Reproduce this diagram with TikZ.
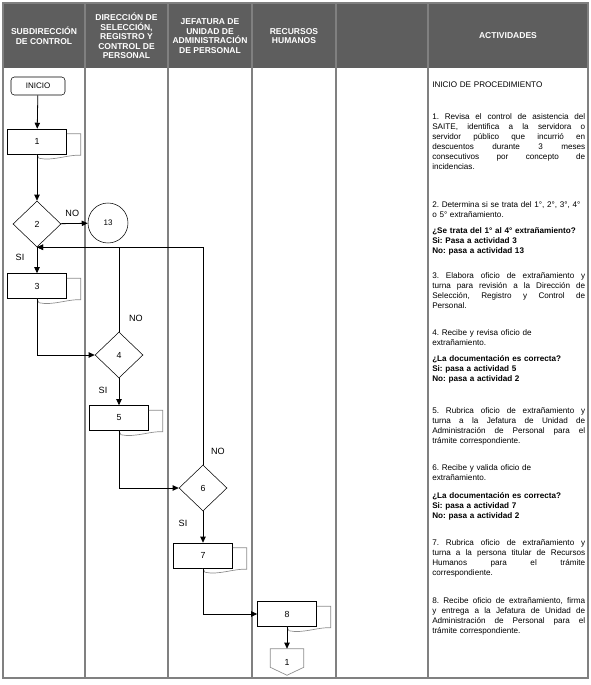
\documentclass[tikz,border=0pt]{standalone}
\usepackage{fontspec}
\setmainfont{Liberation Sans}
\usepackage{tikz}
\usetikzlibrary{arrows.meta,positioning,calc,shapes.geometric}
\definecolor{cHead}{HTML}{5E5E5E}
\definecolor{cRule}{HTML}{808080}
\definecolor{cLine}{HTML}{000000}
\definecolor{cShade}{HTML}{8C8C8C}
\tikzset{
  hdr/.style={text=white, font=\fontsize{6.4}{7.2}\selectfont\bfseries, align=center, inner sep=0pt},
  rule/.style={draw=cRule, line width=1pt},
  inicio/.style={draw, rounded corners=2.5pt, minimum width=54*0.75pt, minimum height=18*0.75pt,
                 inner sep=0pt, font=\fontsize{6}{7}\selectfont},
  procbox/.style={draw, fill=white, minimum width=59*0.75pt, minimum height=25*0.75pt,
                  inner sep=0pt, font=\fontsize{6.6}{7}\selectfont},
  decis/.style={diamond, draw, minimum width=48*0.75pt, minimum height=46*0.75pt,
                inner sep=0pt, font=\fontsize{6.6}{7}\selectfont},
  conn/.style={circle, draw, minimum size=40*0.75pt, inner sep=0pt, font=\fontsize{6}{7}\selectfont},
  offpg/.style={minimum width=33*0.75pt, minimum height=26*0.75pt, inner sep=0pt,
                font=\fontsize{6.6}{7}\selectfont},
  docback/.style={draw=cShade, line width=0.5pt},
  arr/.style={-{Triangle[length=4.5pt,width=4pt]}, line width=0.6pt, cLine},
  lbl/.style={font=\fontsize{6.8}{8}\selectfont, inner sep=0pt},
  act/.style={anchor=north west, inner sep=0pt, text width=\actw, align=left,
              font=\fontsize{6.1}{7.5}\selectfont\frenchspacing},
  actq/.style={act, font=\fontsize{6.1}{7.5}\selectfont\frenchspacing\bfseries}
}
\newcommand{\actw}{114.75pt}
\newcommand{\jline}[1]{\makebox[\actw][s]{\spaceskip=0.278em plus 1fil minus 0.06em\relax #1}\\}
\newcommand{\docshadow}[1]{%
  \draw[docback] ($(#1.north east)+(0,5)$) -- ++(14,0) -- ($(#1.south east)+(14,1)$)
    .. controls +(-12,-1) and +(14,3) .. ($(#1.south)+(2,4)$) -- (#1.south);}

\begin{document}
\begin{tikzpicture}[x=0.75pt, y=-0.75pt]
\useasboundingbox (0,0) rectangle (590,685);
% table: header band and lanes
\fill[cHead] (3,3) rectangle (588,68);
\draw[rule] (3,3) rectangle (588,678);
\draw[rule] (85,3) -- (85,678);
\draw[rule] (168,3) -- (168,678);
\draw[rule] (252,3) -- (252,678);
\draw[rule] (336,3) -- (336,678);
\draw[rule] (428,3) -- (428,678);
\node[hdr] (h1) at (44,36) {SUBDIRECCIÓN\\DE CONTROL};
\node[hdr] (h2) at (126.5,36) {DIRECCIÓN DE\\SELECCIÓN,\\REGISTRO Y\\CONTROL DE\\PERSONAL};
\node[hdr] (h3) at (210,36) {JEFATURA DE\\UNIDAD DE\\ADMINISTRACIÓN\\DE PERSONAL};
\node[hdr] (h4) at (294,36) {RECURSOS\\HUMANOS};
\node[hdr] (h6) at (508,36) {ACTIVIDADES};
% flow: subdireccion de control
\node[inicio] (ini) at (38,86) {INICIO};
\node[procbox] (b1) at (37,141.5) {1};
\docshadow{b1}
\node[decis] (d2) at (37,224) {2};
\node[conn] (c13) at (108,223) {13};
\node[procbox] (b3) at (37,286) {3};
\docshadow{b3}
% direccion de seleccion
\node[decis] (d4) at (119,355) {4};
\node[procbox] (b5) at (119,418) {5};
\docshadow{b5}
% jefatura de unidad
\node[decis] (d6) at (203,488) {6};
\node[procbox] (b7) at (203,555.5) {7};
\docshadow{b7}
% recursos humanos
\node[procbox] (b8) at (287,614) {8};
\docshadow{b8}
\node[offpg] (off1) at (287,662) {1};
\draw[docback] (off1.north west) -- (off1.north east) -- ($(off1.south east)+(0,-8)$)
  -- (off1.south) -- ($(off1.south west)+(0,-8)$) -- cycle;
% connectors
\draw[arr] (ini) -- (b1);
\draw[arr] (b1) -- (d2);
\draw[arr] (d2) -- (c13);
\draw[arr] (d2) -- (b3);
\draw[arr] (b3.south) |- (d4.west);
\draw[arr] (d4.north) |- (d2.south);
\draw[arr] (d4) -- (b5);
\draw[arr] (b5.south) |- (d6.west);
\draw[arr] (d6.north) |- (d2.south);
\draw[arr] (d6) -- (b7);
\draw[arr] (b7.south) |- (b8.west);
\draw[arr] (b8) -- (off1);
\node[lbl] (n2) at ($(d2.east)+(11,-11)$) {NO};
\node[lbl] (s2) at ($(d2.south)+(-17,10)$) {SI};
\node[lbl] (n4) at ($(d4.north)+(17,-13)$) {NO};
\node[lbl] (s4) at ($(d4.south)+(-16,12)$) {SI};
\node[lbl] (n6) at ($(d6.north)+(15,-13)$) {NO};
\node[lbl] (s6) at ($(d6.south)+(-20,12)$) {SI};
% activities column
\node[act] (a0) at (432,82) {INICIO DE PROCEDIMIENTO};
\node[act] (a1) at (432,113) {\jline{1. Revisa el control de asistencia del}
  \jline{SAITE, identifica a la servidora o}
  \jline{servidor público que incurrió en}
  \jline{descuentos durante 3 meses}
  \jline{consecutivos por concepto de}
  incidencias.};
\node[act] (a2) at (432,201) {\mbox{2. Determina si se trata del 1°, 2°, 3°, 4°}\\o 5° extrañamiento.};
\node[actq] (q2) at (432,227) {¿Se trata del 1° al 4° extrañamiento?\\Si: Pasa a actividad 3\\No: pasa a actividad 13};
\node[act] (a3) at (432,272) {\jline{3. Elabora oficio de extrañamiento y}
  \jline{turna para revisión a la Dirección de}
  \jline{Selección, Registro y Control de}
  Personal.};
\node[act] (a4) at (432,329) {4. Recibe y revisa oficio de\\extrañamiento.};
\node[actq] (q4) at (432,355) {¿La documentación es correcta?\\Si: pasa a actividad 5\\No: pasa a actividad 2};
\node[act] (a5) at (432,407) {\jline{5. Rubrica oficio de extrañamiento y}
  \jline{turna a la Jefatura de Unidad de}
  \jline{Administración de Personal para el}
  trámite correspondiente.};
\node[act] (a6) at (432,464) {6. Recibe y valida oficio de\\extrañamiento.};
\node[actq] (q6) at (432,492) {¿La documentación es correcta?\\Si: pasa a actividad 7\\No: pasa a actividad 2};
\node[act] (a7) at (432,539) {\jline{7. Rubrica oficio de extrañamiento y}
  \jline{turna a la persona titular de Recursos}
  \jline{Humanos para el trámite}
  correspondiente.};
\node[act] (a8) at (432,597) {\jline{8. Recibe oficio de extrañamiento, firma}
  \jline{y entrega a la  Jefatura de Unidad de}
  \jline{Administración de Personal para el}
  trámite correspondiente.};
\end{tikzpicture}
\end{document}
